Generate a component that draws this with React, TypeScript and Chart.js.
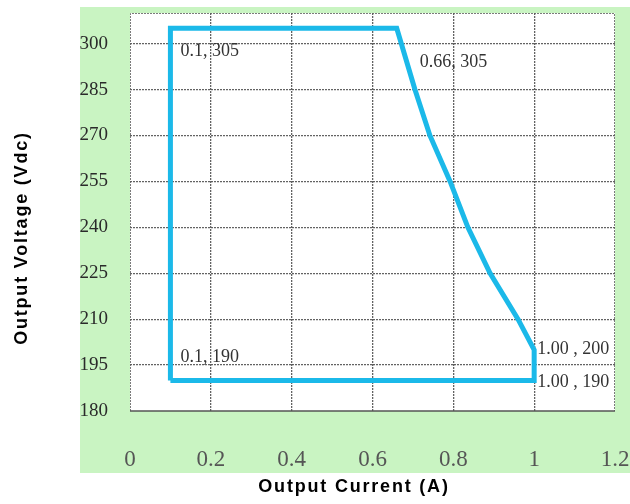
import React, { useEffect, useRef } from "react";
import { Chart, registerables } from "chart.js";

Chart.register(...registerables);

// Output current (A) along the boundary of the operating area
const currentValues = [0.1, 0.1, 0.66, 0.705, 0.742, 0.792, 0.836, 0.891, 0.96, 1.0, 1.0, 0.1];
// Output voltage (Vdc) for each point above
const voltageValues = [190, 305, 305, 285, 270, 255, 240, 225, 210, 200, 190, 190];

const xTickValues = [0, 0.2, 0.4, 0.6, 0.8, 1.0, 1.2];
const yTickValues = [180, 195, 210, 225, 240, 255, 270, 285, 300];

const cornerLabels = ["0.1, 305", "0.66, 305", "1.00 , 200", "1.00 , 190", "0.1, 190"];
const cornerX = [0.1, 0.66, 1.0, 1.0, 0.1];
const cornerY = [305, 305, 200, 190, 190];

const xTitle = "Output Current (A)";
const yTitle = "Output Voltage (Vdc)";

// pixel offsets of each corner label from its point (left edge, vertical centre)
const labelOffsets: [number, number][] = [
  [10, 23],
  [23, 34],
  [3, -1],
  [3, 2],
  [10, -23],
];

const decorPlugin = {
  id: "decor",
  beforeDraw(chart: any) {
    const { ctx, chartArea } = chart;
    ctx.save();
    ctx.fillStyle = "#c9f4c2";
    ctx.fillRect(80, 7, 550, 466);
    ctx.fillStyle = "#ffffff";
    ctx.fillRect(chartArea.left, chartArea.top, chartArea.right - chartArea.left, chartArea.bottom - chartArea.top);
    ctx.restore();
  },
  beforeDatasetsDraw(chart: any) {
    const { ctx, chartArea } = chart;
    ctx.save();
    ctx.strokeStyle = "rgba(90,90,90,0.8)";
    ctx.lineWidth = 1;
    ctx.setLineDash([2, 1]);
    ctx.beginPath();
    ctx.moveTo(chartArea.left + 0.5, chartArea.bottom);
    ctx.lineTo(chartArea.left + 0.5, chartArea.top + 0.5);
    ctx.lineTo(chartArea.right - 0.5, chartArea.top + 0.5);
    ctx.lineTo(chartArea.right - 0.5, chartArea.bottom);
    ctx.stroke();
    ctx.setLineDash([]);
    ctx.strokeStyle = "#555555";
    ctx.lineWidth = 1.5;
    ctx.beginPath();
    ctx.moveTo(chartArea.left, chartArea.bottom);
    ctx.lineTo(chartArea.right, chartArea.bottom);
    ctx.stroke();
    ctx.restore();
  },
  afterDraw(chart: any) {
    const { ctx } = chart;
    const xs = chart.scales.x;
    const ys = chart.scales.y;
    ctx.save();
    ctx.fillStyle = "#333333";
    ctx.font = '18px "Liberation Serif"';
    ctx.textBaseline = "middle";
    ctx.textAlign = "left";
    cornerLabels.forEach((t, i) => {
      const px = xs.getPixelForValue(cornerX[i]);
      const py = ys.getPixelForValue(cornerY[i]);
      ctx.fillText(t, px + labelOffsets[i][0], py + labelOffsets[i][1]);
    });
    ctx.fillStyle = "#000000";
    ctx.font = 'bold 18px "Liberation Sans"';
    (ctx as any).letterSpacing = "1.8px";
    ctx.textAlign = "center";
    ctx.fillText(xTitle, 354, 487);
    ctx.translate(22, 238);
    ctx.rotate(-Math.PI / 2);
    ctx.fillText(yTitle, 0, 0);
    ctx.restore();
  },
};

export default function App() {
  const ref = useRef<HTMLCanvasElement | null>(null);

  useEffect(() => {
    if (!ref.current) return;
    const points = currentValues.map((x, i) => ({ x, y: voltageValues[i] }));
    const gridColor = "rgba(60,60,60,0.8)";
    const chart = new Chart(ref.current, {
      type: "scatter",
      data: {
        datasets: [
          {
            data: points,
            showLine: true,
            borderColor: "#1bb9e9",
            borderWidth: 5,
            pointRadius: 0,
            tension: 0,
            borderJoinStyle: "miter",
            fill: false,
          } as any,
        ],
      },
      options: {
        animation: false,
        responsive: true,
        maintainAspectRatio: false,
        layout: { padding: { top: 13, right: 15, left: 0, bottom: 0 } },
        plugins: { legend: { display: false }, tooltip: { enabled: false }, title: { display: false } },
        scales: {
          x: {
            type: "linear",
            min: 0,
            max: 1.2,
            afterBuildTicks: (s: any) => {
              s.ticks = xTickValues.map((v) => ({ value: v }));
            },
            afterFit: (s: any) => {
              s.height = 93;
              s.paddingLeft = 0;
              s.paddingRight = 0;
            },
            grid: {
              drawTicks: false,
              lineWidth: 1.3,
              color: (c: any) => (c.tick && (c.tick.value === 0 || c.tick.value === 1.2) ? "rgba(0,0,0,0)" : gridColor),
            } as any,
            border: { display: false, dash: [2, 1] },
            ticks: {
              autoSkip: false,
              maxRotation: 0,
              padding: 35,
              color: "#555555",
              font: { family: "Liberation Serif", size: 23 },
              callback: (v: any) => String(Number(Number(v).toFixed(1))),
            },
          },
          y: {
            type: "linear",
            min: 180,
            max: 310,
            afterBuildTicks: (s: any) => {
              s.ticks = yTickValues.map((v) => ({ value: v }));
            },
            afterFit: (s: any) => {
              s.width = 130;
              s.paddingTop = 0;
              s.paddingBottom = 0;
            },
            grid: {
              drawTicks: false,
              lineWidth: 1.3,
              color: (c: any) => (c.tick && c.tick.value === 180 ? "rgba(0,0,0,0)" : gridColor),
            } as any,
            border: { display: false, dash: [2, 1] },
            ticks: {
              padding: 22,
              color: "#2a2a2a",
              font: { family: "Liberation Serif", size: 19 },
              callback: (v: any) => String(v),
            },
          },
        },
      },
      plugins: [decorPlugin],
    });
    return () => chart.destroy();
  }, []);

  return (
    <div style={{ position: "absolute", left: 0, top: 0, width: 630, height: 504 }}>
      <canvas ref={ref} />
    </div>
  );
}
